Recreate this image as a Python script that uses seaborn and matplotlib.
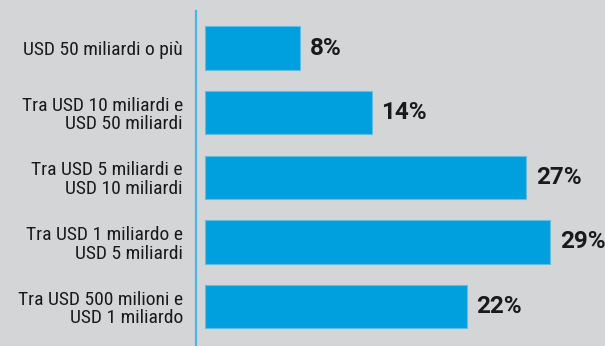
import matplotlib
matplotlib.use("Agg")
import matplotlib.pyplot as plt
from matplotlib import font_manager
import seaborn as sns
import pandas as pd

categories = [
    "USD 50 miliardi o più",
    "Tra USD 10 miliardi e\nUSD 50 miliardi",
    "Tra USD 5 miliardi e\nUSD 10 miliardi",
    "Tra USD 1 miliardo e\nUSD 5 miliardi",
    "Tra USD 500 milioni e\nUSD 1 miliardo",
]
shares = [8, 14, 27, 29, 22]
value_labels = ["8%", "14%", "27%", "29%", "22%"]

# Condensed grotesque for the category labels, a wider one for the values
installed = {f.name for f in font_manager.fontManager.ttflist}


def pick(options):
    return next((f for f in options if f in installed), "DejaVu Sans")


label_family = pick(["Roboto Condensed", "Archivo Narrow", "PT Sans Narrow",
                     "Liberation Sans Narrow"])
value_family = pick(["Roboto", "Liberation Sans"])

bg = "#d4d5d7"
bar_color = "#00a0de"
text_color = "#1a1a1a"

sns.set_theme(style="white")
plt.rcParams["font.family"] = [label_family, "DejaVu Sans"]

df = pd.DataFrame({"category": categories, "share": shares})

fig = plt.figure(figsize=(6.05, 3.46), dpi=100, facecolor=bg)
ax = fig.add_axes([196 / 605, 0, 409 / 605, 335 / 346])
ax.set_facecolor(bg)

sns.barplot(data=df, x="share", y="category", orient="h", color=bar_color,
            width=0.673, saturation=1, edgecolor="#62bde4", linewidth=0.8, ax=ax)

ax.set_xlim(-0.76, 33.61)
ax.set_ylim(4.611, -0.573)
ax.set_xlabel("")
ax.set_ylabel("")
ax.set_xticks([])
ax.tick_params(axis="y", length=0, pad=9.5, labelsize=14, labelcolor=text_color)
for lbl in ax.get_yticklabels():
    lbl.set_horizontalalignment("right")
    lbl.set_multialignment("right")
    lbl.set_linespacing(1.05)

for side in ["top", "right", "bottom"]:
    ax.spines[side].set_visible(False)
ax.spines["left"].set_color("#4ab6e6")
ax.spines["left"].set_linewidth(1.6)

ax.bar_label(ax.containers[0], labels=value_labels, padding=7, fontsize=17.5,
             fontweight="semibold", color=text_color,
             family=[value_family, "DejaVu Sans"])

fig.savefig("out.png", dpi=100, facecolor=bg)
